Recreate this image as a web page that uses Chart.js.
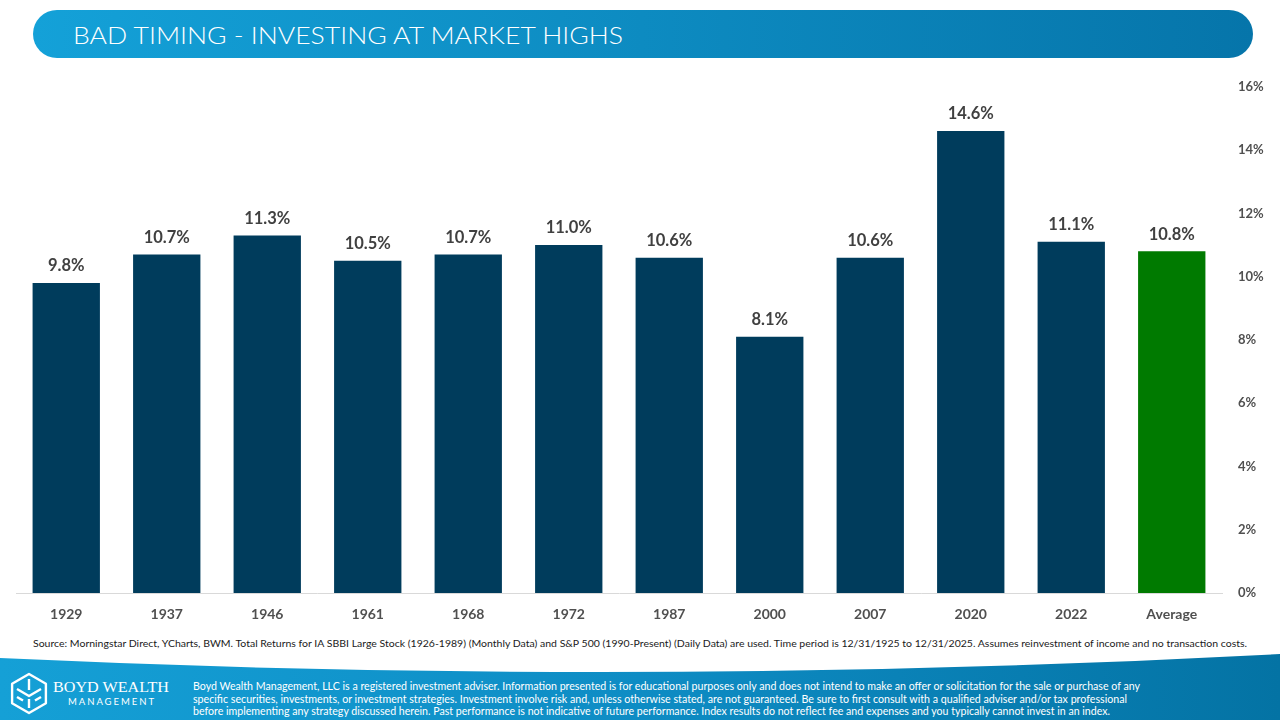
<!DOCTYPE html>
<html>
<head>
<meta charset="utf-8">
<script src="https://cdn.jsdelivr.net/npm/chart.js@4.4.1/dist/chart.umd.min.js"></script>
<style>
  html, body { margin: 0; padding: 0; background: #fff; }
  body { width: 1280px; height: 720px; position: relative; overflow: hidden; font-family: Lato, "Open Sans", sans-serif; }
  #deco { position: absolute; left: 0; top: 0; }
  #chart { position: absolute; left: 0; top: 63px; }
</style>
</head>
<body>
<svg id="deco" width="1280" height="720" xmlns="http://www.w3.org/2000/svg">
  <defs>
    <linearGradient id="hdr" x1="0" x2="1" y1="0" y2="0">
      <stop offset="0" stop-color="#14a1d8"/>
      <stop offset="1" stop-color="#0675aa"/>
    </linearGradient>
    <linearGradient id="ftr" x1="0" x2="1" y1="0" y2="0">
      <stop offset="0" stop-color="#15a0d6"/>
      <stop offset="0.5" stop-color="#0e8cc4"/>
      <stop offset="1" stop-color="#0473a4"/>
    </linearGradient>
  </defs>
  <!-- header pill -->
  <rect x="33" y="10" width="1220" height="48" rx="24" fill="url(#hdr)"/>
  <text x="73" y="44" fill="#fff" font-family="Lato" font-weight="300" font-size="24" textLength="550" lengthAdjust="spacingAndGlyphs">BAD TIMING - INVESTING AT MARKET HIGHS</text>

  <!-- source line -->
  <text x="33" y="647" fill="#1a1a1a" font-family="Lato" font-size="10" textLength="1214" lengthAdjust="spacingAndGlyphs">Source: Morningstar Direct, YCharts, BWM. Total Returns for IA SBBI Large Stock (1926-1989) (Monthly Data) and S&amp;P 500 (1990-Present) (Daily Data) are used. Time period is 12/31/1925 to 12/31/2025. Assumes reinvestment of income and no transaction costs.</text>

  <!-- footer band -->
  <path d="M0,658 Q640,688 1280,654 L1280,720 L0,720 Z" fill="url(#ftr)"/>

  <!-- logo -->
  <g stroke="#fff" stroke-width="2.4" fill="none" stroke-linejoin="round">
    <polygon points="29,674 45.9,683.8 45.9,703.3 29,713 12.1,703.3 12.1,683.8"/>
    <polyline points="17,689 29,696 41,689"/>
    <line x1="29" y1="699" x2="29" y2="708"/>
    <line x1="29" y1="679" x2="29" y2="690"/>
    <line x1="17" y1="697" x2="23" y2="700.5"/>
    <line x1="41" y1="697" x2="35" y2="700.5"/>
  </g>
  <text x="53" y="692" fill="#fff" font-family="Liberation Serif" font-size="14.5" textLength="116" lengthAdjust="spacingAndGlyphs">BOYD WEALTH</text>
  <text x="68" y="705" fill="#fff" font-family="Lato" font-size="9.5" textLength="86" lengthAdjust="spacing">MANAGEMENT</text>

  <!-- disclaimer -->
  <g fill="#fff" font-family="Lato" font-size="10.5">
    <text x="193" y="690" textLength="947" lengthAdjust="spacingAndGlyphs">Boyd Wealth Management, LLC is a registered investment adviser. Information presented is for educational purposes only and does not intend to make an offer or solicitation for the sale or purchase of any</text>
    <text x="193" y="702.5" textLength="934" lengthAdjust="spacingAndGlyphs">specific securities, investments, or investment strategies. Investment involve risk and, unless otherwise stated, are not guaranteed. Be sure to first consult with a qualified adviser and/or tax professional</text>
    <text x="193" y="715" textLength="917" lengthAdjust="spacingAndGlyphs">before implementing any strategy discussed herein. Past performance is not indicative of future performance. Index results do not reflect fee and expenses and you typically cannot invest in an index.</text>
  </g>
</svg>

<canvas id="chart" width="1280" height="560"></canvas>

<script>
const years = ["1929", "1937", "1946", "1961", "1968", "1972", "1987", "2000", "2007", "2020", "2022", "Average"];
const returns = [9.8, 10.7, 11.3, 10.5, 10.7, 11.0, 10.6, 8.1, 10.6, 14.6, 11.1, 10.8];
const yTicks = [0, 2, 4, 6, 8, 10, 12, 14, 16];

const navy = '#003c5c';
const green = '#007a00';

// simple value labels drawn over each bar
const barLabels = {
    id: 'barLabels',
    afterDatasetsDraw(chart) {
        const ctx = chart.ctx;
        const meta = chart.getDatasetMeta(0);
        ctx.save();
        ctx.font = 'bold 16.5px Lato';
        ctx.fillStyle = '#404040';
        ctx.textAlign = 'center';
        ctx.textBaseline = 'middle';
        meta.data.forEach((bar, i) => {
            ctx.fillText(returns[i].toFixed(1) + '%', bar.x, bar.y - 17);
        });
        ctx.restore();
    }
};

new Chart(document.getElementById('chart'), {
    type: 'bar',
    data: {
        labels: years,
        datasets: [{
            data: returns,
            backgroundColor: years.map(y => y === 'Average' ? green : navy),
            borderWidth: 0,
            barPercentage: 0.67,
            categoryPercentage: 1
        }]
    },
    options: {
        responsive: false,
        animation: false,
        devicePixelRatio: 1,
        layout: { padding: { left: 16, top: 8, right: 0, bottom: 0 } },
        plugins: { legend: { display: false }, tooltip: { enabled: false } },
        scales: {
            x: {
                grid: { display: false, drawTicks: false },
                border: { display: true, color: '#d9d9d9', width: 1 },
                ticks: { color: '#505050', font: { family: 'Lato', weight: 'bold', size: 14 }, padding: 13 },
                afterFit: s => { s.height = 30; }
            },
            y: {
                position: 'right',
                min: 0, max: 16,
                afterBuildTicks: s => { s.ticks = yTicks.map(v => ({ value: v })); },
                grid: { display: false, drawTicks: false },
                border: { display: false },
                ticks: {
                    color: '#505050', font: { family: 'Lato', weight: 'bold', size: 13 }, padding: 16,
                    callback: v => v + '%'
                },
                afterFit: s => { s.width = 58; }
            }
        }
    },
    plugins: [barLabels]
});
</script>
</body>
</html>
